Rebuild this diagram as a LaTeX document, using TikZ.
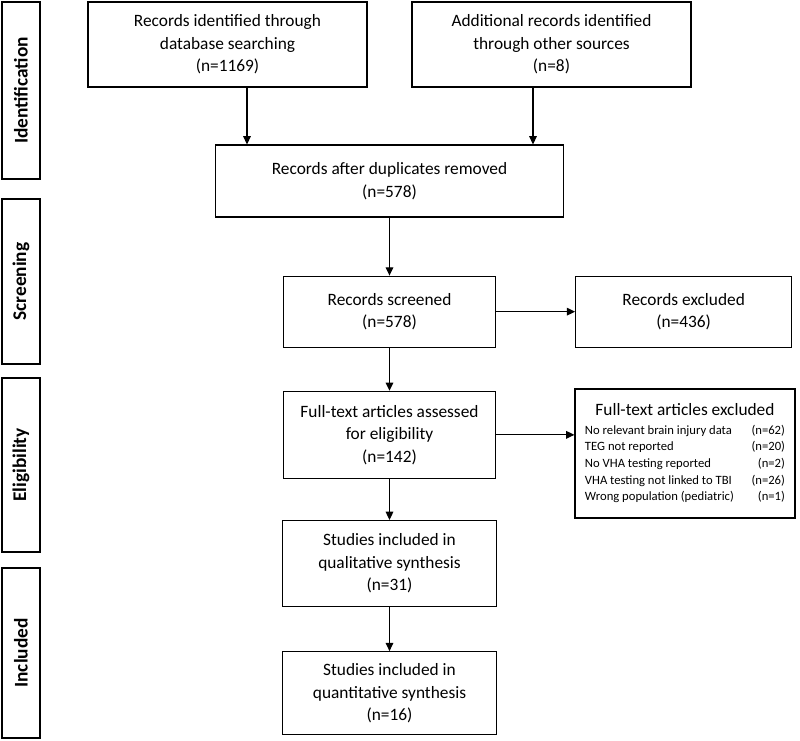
\documentclass[tikz,border=0pt]{standalone}
\usepackage{fontspec}
\setmainfont{Carlito}
\usetikzlibrary{positioning, arrows.meta}

\begin{document}
\begin{tikzpicture}[
  x=0.03cm, y=-0.03cm,
  box/.style={draw, line width=1pt, align=center, inner sep=2pt,
              font=\fontsize{14.8}{19.2}\selectfont},
  phase/.style={draw, line width=1pt, rotate=90, inner sep=0pt,
                minimum height=1.14cm, font=\bfseries\fontsize{16.5}{18}\selectfont},
  ar/.style={-{Triangle[length=7pt, width=6.5pt]}, line width=1pt},
]
  \useasboundingbox (0,0) rectangle (800,741);

  % phases on the left
  \node[phase, minimum width=5.31cm] (ident) at (21,90.5) {Identification};
  \node[phase, minimum width=4.95cm] (screen) at (21,281.5) {Screening};
  \node[phase, minimum width=5.22cm] (elig) at (21,465) {Eligibility};
  \node[phase, minimum width=5.10cm] (incl) at (21,653) {Included};

  % flow
  \node[box, minimum width=8.37cm, minimum height=2.55cm] (dbase) at (227.5,44.5)
    {Records identified through\\database searching\\(n=1169)};
  \node[box, minimum width=8.37cm, minimum height=2.55cm] (other) at (551.5,44.5)
    {Additional records identified\\through other sources\\(n=8)};
  \node[box, minimum width=10.44cm, minimum height=2.16cm] (dedup) at (389.5,181)
    {Records after duplicates removed\\(n=578)};
  \node[box, minimum width=6.36cm, minimum height=2.13cm, below=1.74cm of dedup] (screened)
    {Records screened\\(n=578)};
  \node[box, minimum width=6.48cm, minimum height=2.13cm, right=2.37cm of screened] (recexcl)
    {Records excluded\\(n=436)};
  \node[box, minimum width=6.36cm, minimum height=2.61cm, below=1.29cm of screened] (fulltext)
    {Full-text articles assessed\\for eligibility\\(n=142)};
  \node[box, minimum width=6.6cm, minimum height=3.87cm, inner sep=0pt] (ftexcl) at (685,453.5)
    {\begin{tabular*}{6cm}{@{}l@{\extracolsep{\fill}}r@{}}
       \multicolumn{2}{@{}c@{}}{Full-text articles excluded}\\[-3pt]
       \fontsize{10.8}{13.2}\selectfont No relevant brain injury data & \fontsize{10.8}{13.2}\selectfont (n=62)\\[-5pt]
       \fontsize{10.8}{13.2}\selectfont TEG not reported & \fontsize{10.8}{13.2}\selectfont (n=20)\\[-5pt]
       \fontsize{10.8}{13.2}\selectfont No VHA testing reported & \fontsize{10.8}{13.2}\selectfont (n=2)\\[-5pt]
       \fontsize{10.8}{13.2}\selectfont VHA testing not linked to TBI & \fontsize{10.8}{13.2}\selectfont (n=26)\\[-5pt]
       \fontsize{10.8}{13.2}\selectfont Wrong population (pediatric) & \fontsize{10.8}{13.2}\selectfont (n=1)
     \end{tabular*}};
  \node[box, minimum width=6.42cm, minimum height=2.58cm, below=1.23cm of fulltext] (qual)
    {Studies included in\\qualitative synthesis\\(n=31)};
  \node[box, minimum width=6.42cm, minimum height=2.49cm, below=1.32cm of qual] (quant)
    {Studies included in\\quantitative synthesis\\(n=16)};

  \coordinate (jA) at (247,0);
  \coordinate (jB) at (533,0);

  \draw[ar] (dbase.south -| jA) -- (dedup.north -| jA);
  \draw[ar] (other.south -| jB) -- (dedup.north -| jB);
  \draw[ar] (dedup) -- (screened);
  \draw[ar] (screened) -- (recexcl);
  \draw[ar] (screened) -- (fulltext);
  \draw[ar] (fulltext.east) -- (fulltext.east -| ftexcl.west);
  \draw[ar] (fulltext) -- (qual);
  \draw[ar] (qual) -- (quant);
\end{tikzpicture}
\end{document}
